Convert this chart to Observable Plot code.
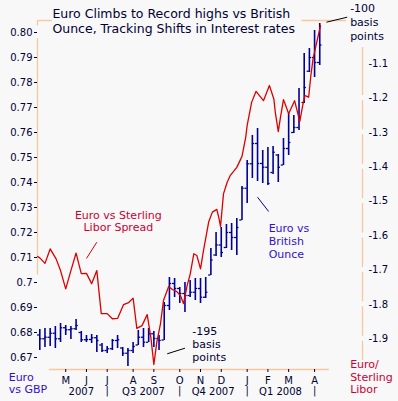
<!DOCTYPE html>
<html><head><meta charset="utf-8">
<script src="https://cdn.jsdelivr.net/npm/d3@7"></script>
<script src="https://cdn.jsdelivr.net/npm/@observablehq/plot@0.6"></script>
<style>html,body{margin:0;padding:0;background:#f8f8f8;}</style>
</head><body><div id="chart"></div>
<script>
// ---- Weekly EUR/GBP bars (Sunday-dated weeks from 2007-04-01) ----
const barHighs = [0.6812,0.6816,0.6816,0.6824,0.6836,0.6828,0.6824,0.6852,0.6804,0.6788,
  0.6792,0.6788,0.6756,0.6744,0.6772,0.6788,0.6740,0.6736,0.6760,0.6808,
  0.6816,0.6816,0.6804,0.6788,0.6920,0.7020,0.7016,0.6980,0.7000,0.7008,
  0.7016,0.7016,0.7020,0.7136,0.7200,0.7220,0.7232,0.7236,0.7256,0.7384,
  0.7488,0.7588,0.7616,0.7528,0.7540,0.7544,0.7512,0.7576,0.7676,0.7668,
  0.7776,0.7916,0.7936,0.8008,0.8036];
const barLows = [0.6728,0.6740,0.6744,0.6736,0.6760,0.6788,0.6772,0.6808,0.6760,0.6760,
  0.6756,0.6720,0.6720,0.6716,0.6728,0.6736,0.6704,0.6664,0.6716,0.6748,
  0.6740,0.6760,0.6740,0.6728,0.6768,0.6888,0.6940,0.6916,0.6880,0.6940,
  0.6928,0.6916,0.6936,0.7028,0.7104,0.7100,0.7136,0.7128,0.7108,0.7248,
  0.7316,0.7416,0.7404,0.7396,0.7388,0.7432,0.7400,0.7468,0.7508,0.7596,
  0.7608,0.7716,0.7840,0.7820,0.7868];
const barOpens = [0.6790,0.6775,0.6781,0.6797,0.6775,0.6819,0.6811,0.6815,0.6800,0.6771,
  0.6772,0.6779,0.6750,0.6728,0.6735,0.6768,0.6738,0.6717,0.6728,0.6750,
  0.6781,0.6761,0.6795,0.6776,0.6770,0.6908,0.6996,0.6976,0.6956,0.6948,
  0.6961,0.6976,0.6941,0.7030,0.7110,0.7150,0.7140,0.7200,0.7180,0.7250,
  0.7377,0.7475,0.7556,0.7476,0.7461,0.7440,0.7510,0.7470,0.7536,0.7600,
  0.7620,0.7720,0.7845,0.7900,0.7880];
const barCloses = [0.6775,0.6781,0.6797,0.6775,0.6819,0.6811,0.6815,0.6828,0.6771,0.6772,
  0.6779,0.6768,0.6728,0.6735,0.6768,0.6771,0.6717,0.6728,0.6744,0.6781,
  0.6761,0.6795,0.6776,0.6768,0.6908,0.6996,0.6976,0.6956,0.6948,0.6961,
  0.6976,0.6941,0.6961,0.7090,0.7150,0.7120,0.7200,0.7180,0.7220,0.7377,
  0.7475,0.7556,0.7476,0.7461,0.7396,0.7521,0.7461,0.7536,0.7560,0.7620,
  0.7660,0.7780,0.7900,0.7880,0.7950];

// ---- Euro vs Sterling Libor spread (percentage points) ----
const spreadDates = ["2007-03-29","2007-04-01","2007-04-08","2007-04-15","2007-04-23","2007-04-29","2007-05-06","2007-05-13","2007-05-20","2007-05-27",
  "2007-06-03","2007-06-10","2007-06-17","2007-06-23","2007-07-01","2007-07-08","2007-07-15","2007-07-23","2007-07-30","2007-08-05",
  "2007-08-10","2007-08-17","2007-08-24","2007-08-29","2007-09-02","2007-09-06","2007-09-11","2007-09-15","2007-09-22","2007-09-27",
  "2007-10-03","2007-10-08","2007-10-12","2007-10-17","2007-10-21","2007-10-26","2007-10-30","2007-11-04","2007-11-08","2007-11-15",
  "2007-11-20","2007-11-26","2007-11-29","2007-12-01","2007-12-05","2007-12-10","2007-12-14","2007-12-23","2007-12-30","2008-01-04",
  "2008-01-06","2008-01-12","2008-01-18","2008-01-28","2008-02-05","2008-02-11","2008-02-13","2008-02-17","2008-02-20","2008-02-24",
  "2008-02-27","2008-03-02","2008-03-10","2008-03-14","2008-03-17","2008-03-21","2008-03-24","2008-03-29","2008-04-01","2008-04-04",
  "2008-04-07","2008-04-12","2008-04-14"];
const spreadValues = [-1.661,-1.665,-1.681,-1.639,-1.668,-1.702,-1.755,-1.702,-1.651,-1.711,
  -1.710,-1.740,-1.702,-1.827,-1.827,-1.842,-1.841,-1.801,-1.795,-1.782,
  -1.870,-1.862,-1.830,-1.897,-1.975,-1.910,-1.856,-1.789,-1.748,-1.757,
  -1.763,-1.775,-1.798,-1.745,-1.713,-1.653,-1.658,-1.697,-1.644,-1.561,
  -1.532,-1.524,-1.551,-1.574,-1.479,-1.445,-1.426,-1.402,-1.370,-1.315,
  -1.280,-1.213,-1.181,-1.208,-1.164,-1.203,-1.242,-1.298,-1.256,-1.205,
  -1.222,-1.246,-1.208,-1.242,-1.269,-1.222,-1.193,-1.198,-1.135,-1.086,
  -1.057,-1.009,-0.990];

// ---- Axis ticks ----
const leftTicks = [0.80,0.79,0.78,0.77,0.76,0.75,0.74,0.73,0.72,0.71,0.70,0.69,0.68,0.67];
const leftLabels = ["0.80","0.79","0.78","0.77","0.76","0.75","0.74","0.73","0.72","0.71","0.7","0.69","0.68","0.67"];
const rightTicks = [-1.1,-1.2,-1.3,-1.4,-1.5,-1.6,-1.7,-1.8,-1.9];
const rightLabels = ["-1.1","-1.2","-1.3","-1.4","-1.5","-1.6","-1.7","-1.8","-1.9"];
const monthTicks = ["2007-05-06","2007-06-03","2007-07-01","2007-08-05","2007-09-02","2007-10-07","2007-11-04","2007-12-02","2008-01-06","2008-02-03","2008-03-02","2008-04-06"];
const monthLabels = ["M","J","J","A","S","O","N","D","J","F","M","A"];
const periodLabels = ["2007","Q3 2007","Q4 2007","Q1 2008"];
const periodCenters = ["2007-05-27","2007-08-19","2007-11-21","2008-02-20"];
const periodSeparators = ["2007-07-01","2007-10-07","2008-01-06","2008-04-06"];

// ---- Build tables ----
const D = s => new Date(s + "T00:00:00Z");
const weeks = d3.utcSunday.range(D("2007-04-01"), D("2008-04-14"));
const bars = weeks.map((d, i) => ({date: d, high: barHighs[i], low: barLows[i], open: barOpens[i], close: barCloses[i]}));
// right (spread) axis mapped onto the left (EUR/GBP) scale
const toLeft = r => 0.93896 + 0.1376 * r;
const spread = spreadDates.map((d, i) => ({date: D(d), v: toLeft(spreadValues[i])}));

const xDomain = [new Date("2007-03-28T21:30:00Z"), new Date("2008-06-09T17:00:00Z")];
const yDomain = [0.6652, 0.8048];

const navy = "#000033", peach = "#f7c89e", red = "#dd0000", blue = "#000099";
const crimson = "#cc0033", violet = "#3311cc";

const leftFmt = d => leftLabels[leftTicks.findIndex(t => Math.abs(t - d) < 1e-9)];
const rightFmt = d => rightLabels[rightTicks.findIndex(t => Math.abs(toLeft(t) - d) < 1e-9)];
const monthFmt = d => monthLabels[monthTicks.findIndex(t => D(t).getTime() === d.getTime())];

// right frame line, broken at the tick labels
const rightSegs = [];
{
  let start = -1.0535;
  for (const t of rightTicks.slice(1)) { rightSegs.push({a: start, b: t + 0.007}); start = t - 0.007; }
  rightSegs.push({a: start, b: -1.963});
}

const chart = Plot.plot({
  width: 398, height: 401,
  marginTop: 20, marginBottom: 32, marginLeft: 37, marginRight: 36,
  style: {background: "#f8f8f8", fontFamily: "DejaVu Sans, Verdana, sans-serif", display: "block"},
  x: {type: "utc", domain: xDomain},
  y: {domain: yDomain},
  marks: [
    // frame lines
    Plot.ruleX([{a: 0.8048, b: 0.8026}, {a: 0.7975, b: 0.703}], {x: () => xDomain[0], y1: "a", y2: "b", stroke: peach, strokeWidth: 1.3}),
    Plot.ruleY([{a: xDomain[0], b: D("2007-04-18")}, {a: D("2008-03-20"), b: D("2008-05-19")}], {y: () => yDomain[1], x1: "a", x2: "b", stroke: peach, strokeWidth: 1.3}),
    Plot.ruleY([yDomain[0]], {x1: D("2007-04-14"), x2: D("2008-04-26"), stroke: peach, strokeWidth: 1.3}),
    Plot.ruleX(rightSegs, {x: () => xDomain[1], y1: d => toLeft(d.a), y2: d => toLeft(d.b), stroke: peach, strokeWidth: 1.3}),

    // OHLC bars
    Plot.ruleX(bars, {x: "date", y1: "low", y2: "high", stroke: blue, strokeWidth: 1.6}),
    Plot.ruleY(bars, {x1: d => d3.utcDay.offset(d.date, -3), x2: "date", y: "open", stroke: blue, strokeWidth: 1.3}),
    Plot.ruleY(bars, {x1: "date", x2: d => d3.utcDay.offset(d.date, 3), y: "close", stroke: blue, strokeWidth: 1.3}),

    // spread line
    Plot.line(spread, {x: "date", y: "v", stroke: red, strokeWidth: 1.3}),

    // axes
    Plot.axisY(leftTicks, {anchor: "left", tickSize: 3, tickPadding: 2, tickFormat: leftFmt, fontSize: 10, color: navy, label: null}),
    Plot.axisY(rightTicks.map(toLeft), {anchor: "right", tickSize: 0, tickPadding: 6, tickFormat: rightFmt, fontSize: 10, color: navy, label: null}),
    Plot.axisX(monthTicks.map(D), {anchor: "bottom", tickSize: 3, tickPadding: 4, tickFormat: monthFmt, fontSize: 10, color: navy, label: null}),
    Plot.text(periodLabels, {x: (d, i) => D(periodCenters[i]), text: d => d, frameAnchor: "bottom", dy: 25, fontSize: 10, fill: navy}),
    Plot.text(periodSeparators, {x: d => D(d), text: () => "|", frameAnchor: "bottom", dy: 24, fontSize: 10, fill: navy}),

    // title
    Plot.text(["Euro Climbs to Record highs vs British\nOunce, Tracking Shifts in Interest rates"],
      {x: () => D("2007-04-18"), y: () => 0.8047, text: d => d, textAnchor: "start", fontSize: 12.5, lineHeight: 1.16, fill: navy}),

    // annotations
    Plot.text(["-100\nbasis\npoints"], {x: () => D("2008-05-24"), y: () => 0.8043, text: d => d, textAnchor: "start", fontSize: 11, lineHeight: 1.25, fill: navy}),
    Plot.link([0], {x1: () => D("2008-04-22"), y1: () => 0.80412, x2: () => D("2008-05-20"), y2: () => 0.80612, stroke: "#000000", strokeWidth: 1}),

    Plot.text(["-195\nbasis\npoints"], {x: () => D("2007-10-24"), y: () => 0.6756, text: d => d, textAnchor: "start", fontSize: 11, lineHeight: 1.18, fill: navy}),
    Plot.link([0], {x1: () => D("2007-09-20"), y1: () => 0.67148, x2: () => D("2007-10-14"), y2: () => 0.67372, stroke: "#000000", strokeWidth: 1}),

    Plot.text(["Euro vs\nBritish\nOunce"], {x: () => D("2008-02-04"), y: () => 0.7168, text: d => d, textAnchor: "start", fontSize: 11, lineHeight: 1.18, fill: violet}),
    Plot.link([0], {x1: () => D("2008-01-20"), y1: () => 0.73412, x2: () => D("2008-02-04"), y2: () => 0.7284, stroke: blue, strokeWidth: 1}),

    Plot.text(["Euro vs Sterling\nLibor Spread"], {x: () => D("2007-07-16"), y: () => 0.7244, text: d => d, textAnchor: "middle", fontSize: 11, lineHeight: 1.1, fill: crimson}),
    Plot.link([0], {x1: () => D("2007-06-03"), y1: () => 0.7096, x2: () => D("2007-06-17"), y2: () => 0.71612, stroke: red, strokeWidth: 1}),

    Plot.text(["Euro\nvs GBP"], {x: () => D("2007-02-18"), y: () => 0.6598, text: d => d, textAnchor: "start", fontSize: 11, lineHeight: 1.1, fill: violet}),
    Plot.text(["Euro/\nSterling\nLibor"], {x: () => D("2008-05-24"), y: () => 0.6624, text: d => d, textAnchor: "start", fontSize: 11, lineHeight: 1.14, fill: crimson})
  ]
});
document.getElementById("chart").appendChild(chart);
</script></body></html>
